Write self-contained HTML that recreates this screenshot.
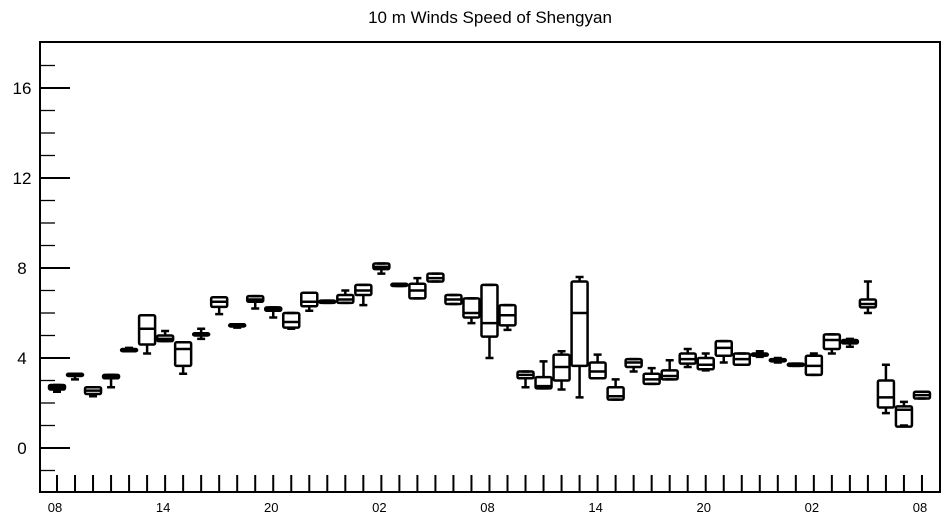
<!DOCTYPE html>
<html><head><meta charset="utf-8"><style>
body{margin:0;background:#fff;}
svg{display:block;font-family:"Liberation Sans",Arial,sans-serif;}
</style></head><body>
<svg id="chart" width="945" height="520">
<text x="490" y="23" text-anchor="middle" font-size="17">10 m Winds Speed of Shengyan</text>
<g id="axes"></g><g id="boxes"></g>
</svg>
<script>
const hours=[...Array(49).keys()];
const mins=[2.5,3.05,2.3,2.7,4.3,4.2,4.75,3.3,4.85,5.95,5.35,6.2,5.8,5.3,6.1,6.45,6.45,6.35,7.75,7.2,6.65,7.4,6.4,5.55,4.0,5.25,2.7,2.65,2.6,2.25,3.1,2.15,3.4,2.85,3.05,3.6,3.45,3.8,3.7,4.05,3.8,3.65,3.25,4.2,4.5,6.0,1.55,1.0,2.2];
const q1s=[2.6,3.2,2.4,3.1,4.3,4.6,4.75,3.65,5.0,6.27,5.4,6.5,6.1,5.35,6.3,6.45,6.45,6.8,7.95,7.2,6.65,7.4,6.4,5.8,4.95,5.45,3.1,2.65,3.0,3.65,3.1,2.15,3.6,2.85,3.05,3.75,3.5,4.1,3.7,4.1,3.85,3.65,3.25,4.4,4.65,6.25,1.8,0.95,2.2];
const meds=[2.7,3.25,2.55,3.2,4.35,5.3,4.85,4.4,5.05,6.5,5.45,6.6,6.2,5.6,6.5,6.5,6.6,7.0,8.05,7.25,7.0,7.55,6.6,6.0,5.55,5.9,3.25,2.75,3.6,6.0,3.4,2.3,3.8,3.05,3.2,3.95,3.7,4.45,3.95,4.15,3.9,3.7,3.65,4.8,4.7,6.4,2.25,1.7,2.35];
const q3s=[2.8,3.3,2.7,3.25,4.4,5.9,5.0,4.7,5.1,6.7,5.5,6.75,6.25,6.0,6.9,6.55,6.8,7.25,8.2,7.3,7.3,7.75,6.8,6.65,7.25,6.35,3.4,3.15,4.15,7.4,3.8,2.7,3.95,3.3,3.45,4.2,4.0,4.75,4.2,4.2,3.95,3.75,4.1,5.05,4.8,6.6,3.0,1.85,2.5];
const maxs=[2.8,3.3,2.7,3.25,4.45,5.9,5.2,4.7,5.3,6.7,5.5,6.75,6.25,6.0,6.9,6.55,7.0,7.25,8.2,7.3,7.55,7.75,6.8,6.65,7.25,6.35,3.4,3.85,4.3,7.6,4.15,3.05,3.95,3.55,3.9,4.4,4.2,4.75,4.2,4.3,4.0,3.75,4.2,5.05,4.85,7.4,3.7,2.05,2.5];
const yTicks=[0,4,8,12,16];
const xLabels=["08","14","20","02","08","14","20","02","08"];
const NS="http://www.w3.org/2000/svg";
const L=40,R=940,T=42,B=492;
const xs=h=>57+(h)*18.02;
const ys=v=>448-(v)*22.5;
const ax=document.getElementById('axes'),bx=document.getElementById('boxes');
function mk(tag,at,par){const e=document.createElementNS(NS,tag);for(const k in at)e.setAttribute(k,at[k]);par.appendChild(e);return e;}
let f=mk('rect',{x:L,y:T,width:R-L,height:B-T,fill:'none',stroke:'#000','stroke-width':2},ax);


for(let v=-1;v<=17;v++){const major=yTicks.includes(v);
 let t=mk('line',{x1:L,x2:L+(major?30:15),y1:ys(v),y2:ys(v),stroke:'#000','stroke-width':major?2:1.3},ax);
 
 }
yTicks.forEach(v=>{let t=mk('text',{x:22,y:ys(v)+6,'text-anchor':'middle','font-size':17},ax);t.textContent=v;
 
 });
hours.forEach(h=>{let t=mk('line',{x1:xs(h),x2:xs(h),y1:B,y2:B-17,stroke:'#000','stroke-width':2},ax);
 
 });
xLabels.forEach((s,i)=>{let t=mk('text',{x:xs(i*6)-2,y:512,'text-anchor':'middle','font-size':13},ax);t.textContent=s;
 
 });
hours.forEach((h,i)=>{const g=mk('g',{stroke:'#000',fill:'none','stroke-width':2.5},bx);
 
 
 const x=xs(h),w=16;
 mk('line',{x1:x,x2:x,y1:ys(maxs[i]),y2:ys(q3s[i])},g);
 mk('line',{x1:x,x2:x,y1:ys(q1s[i]),y2:ys(mins[i])},g);
 mk('line',{x1:x-4,x2:x+4,y1:ys(maxs[i]),y2:ys(maxs[i])},g);
 mk('line',{x1:x-4,x2:x+4,y1:ys(mins[i]),y2:ys(mins[i])},g);
 mk('rect',{x:x-w/2,y:ys(q3s[i]),width:w,height:Math.max(1.5,ys(q1s[i])-ys(q3s[i])),rx:1.5},g);
 mk('line',{x1:x-w/2,x2:x+w/2,y1:ys(meds[i]),y2:ys(meds[i])},g);
});
</script>
</body></html>
